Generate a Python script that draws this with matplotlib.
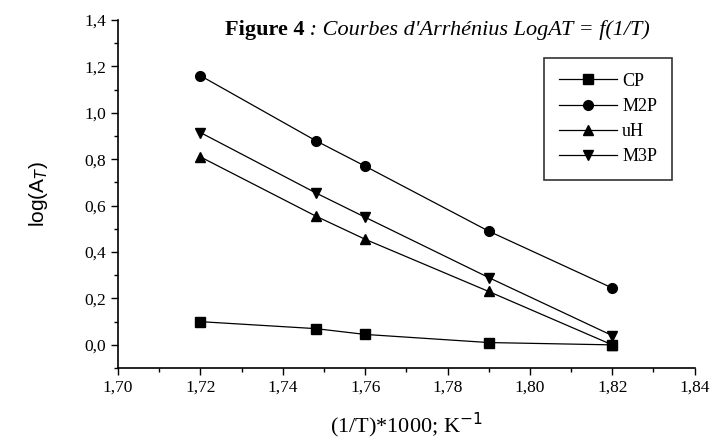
'''
Arrhenius curves: log(A_T) vs (1/T)*1000
'''
import numpy as np
import matplotlib
matplotlib.use('Agg')
import matplotlib.pyplot as plt
from matplotlib.ticker import FuncFormatter, MultipleLocator

inv_t = [1.72, 1.748, 1.76, 1.79, 1.82]
cp = [0.10, 0.07, 0.045, 0.01, 0.0]
m2p = [1.16, 0.88, 0.77, 0.49, 0.245]
uh = [0.81, 0.555, 0.455, 0.23, 0.0]
m3p = [0.915, 0.655, 0.55, 0.29, 0.04]
labels = ['CP', 'M2P', 'uH', 'M3P']

plt.rcParams['font.family'] = ['Liberation Serif', 'DejaVu Serif']

fig = plt.figure(figsize=(7.11, 4.44), dpi=100)
ax = fig.add_axes([0.166, 0.171, 0.811, 0.784])

for y, m, lab in zip([cp, m2p, uh, m3p], ['s', 'o', '^', 'v'], labels):
    ax.plot(inv_t, y, '-', color='black', marker=m, markersize=7, linewidth=0.9, label=lab)

ax.set_xlim(1.70, 1.84)
ax.set_ylim(-0.1, 1.4)
ax.xaxis.set_major_locator(MultipleLocator(0.02))
ax.xaxis.set_minor_locator(MultipleLocator(0.01))
ax.yaxis.set_major_locator(MultipleLocator(0.2))
ax.yaxis.set_minor_locator(MultipleLocator(0.1))
ax.xaxis.set_major_formatter(FuncFormatter(lambda v, p: ('%.2f' % v).replace('.', ',')))
ax.yaxis.set_major_formatter(FuncFormatter(lambda v, p: ('%.1f' % v).replace('.', ',')))
ax.tick_params(which='major', direction='out', length=5, width=1, labelsize=12.5)
ax.tick_params(which='minor', direction='out', length=3, width=1)
ax.spines['top'].set_visible(False)
ax.spines['right'].set_visible(False)
ax.spines['left'].set_linewidth(1.2)
ax.spines['bottom'].set_linewidth(1.2)

ax.set_xlabel('(1/T)*1000; K$^{-1}$', fontsize=16, labelpad=11)
ax.set_ylabel('log(A$_T$)', fontsize=15, family=['Liberation Sans'], labelpad=25)

leg = ax.legend(loc='upper right', bbox_to_anchor=(0.96, 0.89), borderaxespad=0, fontsize=13,
                frameon=True, fancybox=False, edgecolor='black', handlelength=3.2,
                labelspacing=0.45, borderpad=0.8, handletextpad=0.3)
leg.get_frame().set_linewidth(1.2)

# title: bold part then italic part right after it
t1 = fig.text(0.316, 0.932, 'Figure 4', fontsize=16, weight='bold', ha='left', va='center')
fig.canvas.draw()
bb = t1.get_window_extent().transformed(fig.transFigure.inverted())
fig.text(bb.x1, 0.932, " : Courbes d'Arrhénius LogAT = f(1/T)", fontsize=16, style='italic',
         ha='left', va='center')

fig.savefig('out.png', dpi=100)
